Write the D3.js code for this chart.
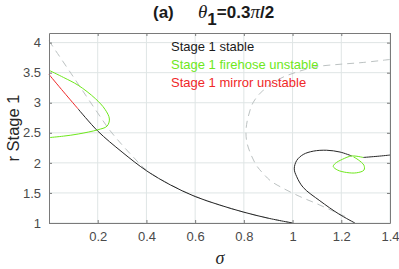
<!DOCTYPE html>
<html>
<head>
<meta charset="utf-8">
<script src="https://cdn.jsdelivr.net/npm/d3@7/dist/d3.min.js"></script>
<style>
  body { margin: 0; background: #fff; }
  text { font-family: "Liberation Sans", Arial, sans-serif; }
</style>
</head>
<body>
<svg id="lienzo" width="399" height="269"></svg>
<script>
// axis ticks
const xTicks = [0.2, 0.4, 0.6, 0.8, 1, 1.2, 1.4];
const yTicks = [1, 1.5, 2, 2.5, 3, 3.5, 4];

// [sigma, r] points
const mirrorUnstable = [[0, 3.47], [0.06, 3.18], [0.12, 2.895]];
const stableMain = [[0.12, 2.895], [0.2, 2.53], [0.3, 2.18], [0.4, 1.87], [0.5, 1.63],
  [0.6, 1.44], [0.7, 1.30], [0.8, 1.18], [0.9, 1.08], [1.0, 1.0]];
const firehoseMain = [[0, 3.54], [0.06, 3.42], [0.12, 3.29], [0.19, 3.07], [0.23, 2.89],
  [0.248, 2.73], [0.238, 2.61], [0.2, 2.55], [0.12, 2.48], [0.06, 2.445], [0, 2.42]];
const stableRightA = [[1.256, 1.0], [1.19, 1.15], [1.112, 1.37], [1.044, 1.59], [1.017, 1.77],
  [1.007, 1.90], [1.017, 2.04], [1.044, 2.14], [1.085, 2.195], [1.14, 2.21], [1.195, 2.18], [1.243, 2.115]];
const stableRightB = [[1.29, 2.09], [1.35, 2.11], [1.4, 2.13]];
const firehoseLoop = [[1.29, 2.09], [1.243, 2.115], [1.205, 2.06], [1.175, 1.99], [1.167, 1.94],
  [1.185, 1.88], [1.222, 1.84], [1.263, 1.835], [1.293, 1.88], [1.293, 1.96], [1.27, 2.05], [1.25, 2.10]];
const thresholdA = [[0, 4.03], [0.1, 3.43], [0.2, 2.83], [0.25, 2.54], [0.3, 2.30], [0.35, 2.08],
  [0.4, 1.88], [0.5, 1.635], [0.6, 1.445], [0.7, 1.30], [0.8, 1.18], [0.9, 1.08], [1.0, 1.0]];
const thresholdB = [[1.4, 3.72], [1.29, 3.67], [1.195, 3.64], [1.10, 3.60], [1.017, 3.51], [0.948, 3.40],
  [0.88, 3.21], [0.839, 3.01], [0.818, 2.77], [0.809, 2.55], [0.812, 2.35], [0.83, 2.13], [0.853, 1.95],
  [0.88, 1.82], [0.91, 1.70], [0.96, 1.58], [1.03, 1.44], [1.10, 1.32], [1.16, 1.21], [1.215, 1.11]];

const legendItems = ["Stage 1 stable", "Stage 1 firehose unstable", "Stage 1 mirror unstable"];
const legendColors = ["#1a1a1a", "#6ee81c", "#f02828"];

const plotLeft = 49, plotRight = 390, plotTop = 33, plotBottom = 223;

const x = d3.scaleLinear().domain([0, 1.4]).range([plotLeft, plotRight]);
const y = d3.scaleLinear().domain([1, 4.16]).range([plotBottom, plotTop]);

const svg = d3.select("#lienzo");

// grid
svg.append("g").selectAll("line").data(xTicks).enter().append("line")
  .attr("x1", d => x(d)).attr("x2", d => x(d)).attr("y1", plotTop).attr("y2", plotBottom)
  .attr("stroke", "#dfe5e5").attr("stroke-width", 1);
svg.append("g").selectAll("line").data(yTicks).enter().append("line")
  .attr("x1", plotLeft).attr("x2", plotRight).attr("y1", d => y(d)).attr("y2", d => y(d))
  .attr("stroke", "#dfe5e5").attr("stroke-width", 1);

const line = d3.line().x(d => x(d[0])).y(d => y(d[1])).curve(d3.curveCatmullRom.alpha(0.5));

function curve(data, color, dash, w) {
  svg.append("path").datum(data).attr("d", line)
    .attr("fill", "none").attr("stroke", color).attr("stroke-width", w || 1)
    .attr("stroke-dasharray", dash || null);
}

curve(thresholdA, "#bcc2c2", "7,5", 1);
curve(thresholdB, "#bcc2c2", "7,5", 1);
curve(stableMain, "#262626", null, 1);
curve(mirrorUnstable, legendColors[2], null, 1);
curve(firehoseMain, legendColors[1], null, 1);
curve(stableRightA, "#262626", null, 1);
curve(stableRightB, "#262626", null, 1);
curve(firehoseLoop, legendColors[1], null, 1);

// axes (ticks inside, box on)
const axisColor = "#7a7a7a";
const xAxis = svg.append("g").attr("transform", "translate(0," + plotBottom + ")")
  .call(d3.axisBottom(x).tickValues(xTicks).tickSizeInner(-3).tickSizeOuter(0).tickPadding(9)
    .tickFormat(d3.format("~g")));
const yAxis = svg.append("g").attr("transform", "translate(" + plotLeft + ",0)")
  .call(d3.axisLeft(y).tickValues(yTicks).tickSizeInner(-3).tickSizeOuter(0).tickPadding(8)
    .tickFormat(d3.format("~g")));
const xTop = svg.append("g").attr("transform", "translate(0," + plotTop + ")")
  .call(d3.axisTop(x).tickValues(xTicks).tickSizeInner(-3).tickSizeOuter(0).tickFormat(""));
const yRight = svg.append("g").attr("transform", "translate(" + plotRight + ",0)")
  .call(d3.axisRight(y).tickValues(yTicks).tickSizeInner(-3).tickSizeOuter(0).tickFormat(""));

[xAxis, yAxis, xTop, yRight].forEach(g => {
  g.select(".domain").attr("stroke", axisColor);
  g.selectAll(".tick line").attr("stroke", axisColor);
  g.selectAll(".tick text").attr("fill", "#4a4a4a")
    .style("font-family", "'Liberation Sans', Arial, sans-serif").style("font-size", "13px");
});

// legend
svg.append("g").selectAll("text").data(legendItems).enter().append("text")
  .attr("x", 171).attr("y", (d, i) => 51 + i * 18)
  .attr("fill", (d, i) => legendColors[i])
  .style("font-size", "13px")
  .text(d => d);

// title
const title = svg.append("text").attr("x", 153).attr("y", 18)
  .style("font-size", "17px").style("font-weight", "bold").attr("fill", "#1a1a1a");
title.append("tspan").text("(a)");
title.append("tspan").attr("x", 198).style("font-style", "italic").style("font-weight", "normal")
  .style("font-family", "'Liberation Serif', serif").style("font-size", "19px").text("θ");
title.append("tspan").attr("dy", 7).text("1");
title.append("tspan").attr("dy", -7).text("=0.3");
title.append("tspan").style("font-style", "italic").style("font-weight", "normal")
  .style("font-family", "'Liberation Serif', serif").style("font-size", "19px").text("π");
title.append("tspan").text("/2");

// axis labels
svg.append("text").attr("transform", "translate(19,128) rotate(-90)")
  .attr("text-anchor", "middle").style("font-size", "16.5px").attr("fill", "#262626")
  .text("r Stage 1");
svg.append("text").attr("x", 220).attr("y", 264).attr("text-anchor", "middle")
  .style("font-size", "18px").style("font-style", "italic")
  .style("font-family", "'Liberation Serif', serif").attr("fill", "#262626").text("σ");
</script>
</body>
</html>
